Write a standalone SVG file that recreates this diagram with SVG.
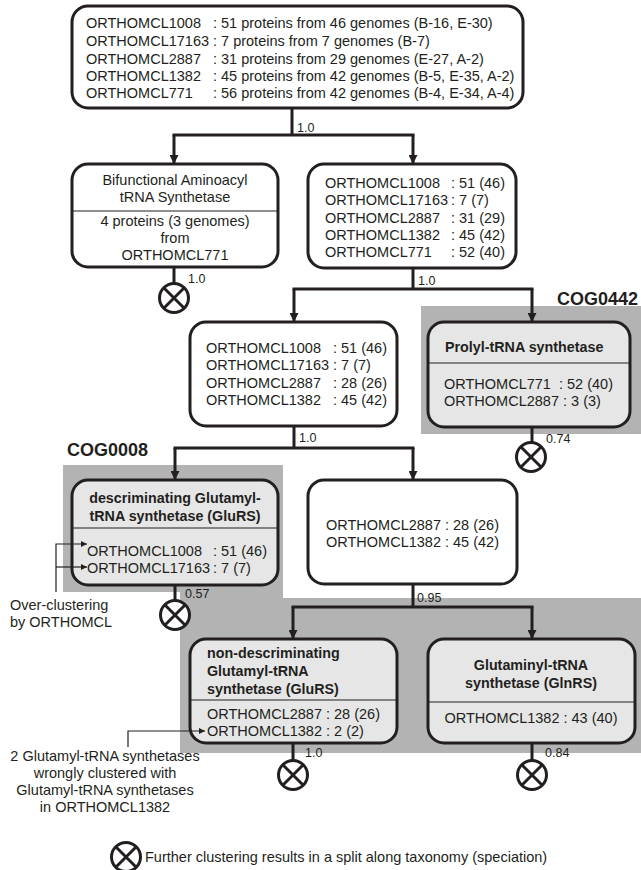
<svg xmlns="http://www.w3.org/2000/svg" width="641" height="870" viewBox="0 0 641 870">
<defs>
<style>
text{font-family:"Liberation Sans",Arial,sans-serif;font-size:14.5px;fill:#231f20}
.b{font-weight:bold;font-size:14.3px}
.cog{font-weight:bold;font-size:18px}
.num{font-size:12.5px}
.c{text-anchor:middle}
.box{fill:#fff;stroke:#231f20;stroke-width:3}
.gbox{fill:#e6e6e6;stroke:#231f20;stroke-width:3}
.div{stroke:#231f20;stroke-width:1.2}
.region{fill:#b3b3b3}
.conn{fill:none;stroke:#231f20;stroke-width:3}
.thin{fill:none;stroke:#231f20;stroke-width:1.2}
</style>
<marker id="ah" viewBox="0 0 10 10" refX="9" refY="5" markerWidth="10" markerHeight="9" orient="auto" markerUnits="userSpaceOnUse">
<path d="M0,0 L10,5 L0,10 z" fill="#231f20"/>
</marker>
<marker id="ahs" viewBox="0 0 10 10" refX="10" refY="5" markerWidth="8" markerHeight="6" orient="auto" markerUnits="userSpaceOnUse">
<path d="M0,0 L10,5 L0,10 z" fill="#231f20"/>
</marker>
<g id="stopsym"><circle r="14.5" fill="#fff" stroke="#231f20" stroke-width="3"/><path d="M-10.25,-10.25 L10.25,10.25 M10.25,-10.25 L-10.25,10.25" stroke="#231f20" stroke-width="3"/></g>
</defs>

<!-- shaded COG regions -->
<g id="regions">
<rect class="region" x="421" y="306" width="220" height="128"/>
<rect class="region" x="63" y="465" width="220" height="127"/>
<rect class="region" x="180" y="590" width="103" height="10"/>
<rect class="region" x="180" y="598" width="461" height="155"/>
</g>

<g id="n-root">
<rect class="box" x="72" y="6" width="451" height="102" rx="16"/>
<text x="86" y="28">ORTHOMCL1008<tspan x="213">: 51 proteins from 46 genomes (B-16, E-30)</tspan></text>
<text x="86" y="46">ORTHOMCL17163<tspan x="213">: 7 proteins from 7 genomes (B-7)</tspan></text>
<text x="86" y="64">ORTHOMCL2887<tspan x="213">: 31 proteins from 29 genomes (E-27, A-2)</tspan></text>
<text x="86" y="81">ORTHOMCL1382<tspan x="213">: 45 proteins from 42 genomes (B-5, E-35, A-2)</tspan></text>
<text x="86" y="98">ORTHOMCL771<tspan x="213">: 56 proteins from 42 genomes (B-4, E-34, A-4)</tspan></text>
</g>

<g id="n-bifunctional">
<rect class="box" x="72" y="164" width="206" height="103" rx="16"/>
<line class="div" x1="72" y1="211" x2="278" y2="211"/>
<text class="c" x="175" y="185">Bifunctional Aminoacyl</text>
<text class="c" x="175" y="202">tRNA Synthetase</text>
<text class="c" x="175" y="226">4 proteins (3 genomes)</text>
<text class="c" x="175" y="243">from</text>
<text class="c" x="175" y="260">ORTHOMCL771</text>
</g>

<g id="n-level2">
<rect class="box" x="308" y="164" width="208" height="104" rx="16"/>
<text x="325" y="188">ORTHOMCL1008<tspan x="451">: 51 (46)</tspan></text>
<text x="325" y="205">ORTHOMCL17163<tspan x="451">: 7 (7)</tspan></text>
<text x="325" y="223">ORTHOMCL2887<tspan x="451">: 31 (29)</tspan></text>
<text x="325" y="240">ORTHOMCL1382<tspan x="451">: 45 (42)</tspan></text>
<text x="325" y="257">ORTHOMCL771<tspan x="451">: 52 (40)</tspan></text>
</g>

<g id="n-level3">
<rect class="box" x="190" y="322" width="207" height="104" rx="16"/>
<text x="206" y="353">ORTHOMCL1008<tspan x="333">: 51 (46)</tspan></text>
<text x="206" y="370">ORTHOMCL17163<tspan x="333">: 7 (7)</tspan></text>
<text x="206" y="388">ORTHOMCL2887<tspan x="333">: 28 (26)</tspan></text>
<text x="206" y="405">ORTHOMCL1382<tspan x="333">: 45 (42)</tspan></text>
</g>

<g id="n-prolyl">
<rect class="gbox" x="428" y="322" width="202" height="105" rx="16"/>
<line class="div" x1="428" y1="363" x2="630" y2="363"/>
<text class="b" x="445" y="352">Prolyl-tRNA synthetase</text>
<text x="444" y="389">ORTHOMCL771<tspan x="559">: 52 (40)</tspan></text>
<text x="444" y="406">ORTHOMCL2887 : 3 (3)</text>
</g>

<g id="n-glurs-d">
<rect class="gbox" x="72" y="480" width="206" height="105" rx="16"/>
<line class="div" x1="72" y1="528" x2="278" y2="528"/>
<text class="b c" x="175" y="503">descriminating Glutamyl-</text>
<text class="b c" x="175" y="521">tRNA synthetase (GluRS)</text>
<text x="87" y="556">ORTHOMCL1008<tspan x="213">: 51 (46)</tspan></text>
<text x="87" y="573">ORTHOMCL17163<tspan x="213">: 7 (7)</tspan></text>
</g>

<g id="n-level4">
<rect class="box" x="308" y="480" width="209" height="104" rx="16"/>
<text x="326" y="530">ORTHOMCL2887 : 28 (26)</text>
<text x="326" y="547">ORTHOMCL1382 : 45 (42)</text>
</g>

<g id="n-glurs-nd">
<rect class="gbox" x="190" y="639" width="207" height="104" rx="16"/>
<line class="div" x1="190" y1="700" x2="397" y2="700"/>
<text class="b" x="207" y="658">non-descriminating</text>
<text class="b" x="207" y="676">Glutamyl-tRNA</text>
<text class="b" x="207" y="694">synthetase (GluRS)</text>
<text x="207" y="719">ORTHOMCL2887 : 28 (26)</text>
<text x="207" y="736">ORTHOMCL1382 : 2 (2)</text>
</g>

<g id="n-glnrs">
<rect class="gbox" x="428" y="639" width="207" height="104" rx="16"/>
<line class="div" x1="428" y1="702" x2="635" y2="702"/>
<text class="b c" x="531" y="670">Glutaminyl-tRNA</text>
<text class="b c" x="531" y="688">synthetase (GlnRS)</text>
<text class="c" x="531" y="723">ORTHOMCL1382 : 43 (40)</text>
</g>

<g id="connectors">
<path class="conn" d="M292,108 V135"/>
<path class="conn" d="M172.5,135 H414.5"/>
<path class="conn" d="M174,135 V163" marker-end="url(#ah)"/>
<path class="conn" d="M413,135 V163" marker-end="url(#ah)"/>
<path class="conn" d="M413,268 V289"/>
<path class="conn" d="M292.5,289 H533.5"/>
<path class="conn" d="M294,289 V321" marker-end="url(#ah)"/>
<path class="conn" d="M532,289 V321" marker-end="url(#ah)"/>
<path class="conn" d="M294,426 V448"/>
<path class="conn" d="M173.5,448 H414.5"/>
<path class="conn" d="M175,448 V479" marker-end="url(#ah)"/>
<path class="conn" d="M413,448 V479" marker-end="url(#ah)"/>
<path class="conn" d="M413,584 V607"/>
<path class="conn" d="M291.5,607 H533.5"/>
<path class="conn" d="M293,607 V638" marker-end="url(#ah)"/>
<path class="conn" d="M532,607 V638" marker-end="url(#ah)"/>
<path class="conn" d="M174,267 V284"/>
<path class="conn" d="M532,427 V443"/>
<path class="conn" d="M175,585 V601"/>
<path class="conn" d="M293,743 V761"/>
<path class="conn" d="M532,743 V761"/>
<path class="thin" d="M56,592 V544 H87" marker-end="url(#ahs)"/>
<path class="thin" d="M56,567 H87" marker-end="url(#ahs)"/>
<path class="thin" d="M128,747 V731 H205" marker-end="url(#ahs)"/>
</g>

<g id="stops">
<use href="#stopsym" x="174" y="298"/>
<use href="#stopsym" x="531" y="457"/>
<use href="#stopsym" x="175" y="615"/>
<use href="#stopsym" x="293" y="775"/>
<use href="#stopsym" x="532" y="775"/>
</g>

<g id="labels">
<text class="num" x="297" y="132">1.0</text>
<text class="num" x="188" y="283">1.0</text>
<text class="num" x="418" y="285">1.0</text>
<text class="num" x="546" y="443">0.74</text>
<text class="num" x="299" y="442">1.0</text>
<text class="num" x="185" y="598">0.57</text>
<text class="num" x="417" y="602">0.95</text>
<text class="num" x="305" y="757">1.0</text>
<text class="num" x="545" y="757">0.84</text>
<text class="cog" x="557" y="305">COG0442</text>
<text class="cog" x="67" y="456">COG0008</text>
<text x="10" y="610">Over-clustering</text>
<text x="10" y="627">by ORTHOMCL</text>
<text class="c" x="105" y="761">2 Glutamyl-tRNA synthetases</text>
<text class="c" x="105" y="778">wrongly clustered with</text>
<text class="c" x="105" y="795">Glutamyl-tRNA synthetases</text>
<text class="c" x="105" y="812">in ORTHOMCL1382</text>
</g>

<g id="legend">
<use href="#stopsym" x="126" y="857"/>
<text x="145" y="862">Further clustering results in a split along taxonomy (speciation)</text>
</g>
</svg>
